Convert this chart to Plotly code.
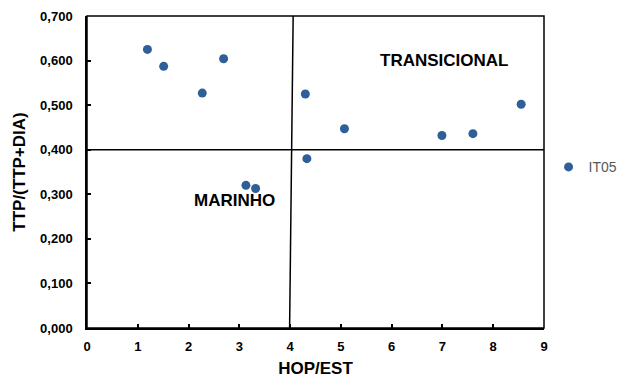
import plotly.graph_objects as go

# Data
hop_est = [1.19, 1.51, 2.27, 2.69, 4.30, 4.33, 3.13, 3.32, 5.07, 6.99, 7.60, 8.55]
ttp_ratio = [0.625, 0.587, 0.527, 0.604, 0.525, 0.380, 0.320, 0.313, 0.447, 0.432, 0.436, 0.502]
series_name = "IT05"

# Division lines (field boundaries)
vline_x = [3.99, 4.06]
vline_y = [0.0, 0.7]
hline_x = [0, 9]
hline_y = [0.4, 0.4]

x_ticks = [0, 1, 2, 3, 4, 5, 6, 7, 8, 9]
y_ticks = [0.0, 0.1, 0.2, 0.3, 0.4, 0.5, 0.6, 0.7]

region_labels = ["TRANSICIONAL", "MARINHO"]
region_x = [7.04, 2.91]
region_y = [0.601, 0.2865]

font_family = "Liberation Sans, Arial, sans-serif"

fig = go.Figure()
fig.add_trace(go.Scatter(x=vline_x, y=vline_y, mode="lines",
                         line=dict(color="black", width=1.5), showlegend=False, hoverinfo="skip"))
fig.add_trace(go.Scatter(x=hline_x, y=hline_y, mode="lines",
                         line=dict(color="black", width=1.5), showlegend=False, hoverinfo="skip"))
fig.add_trace(go.Scatter(x=hop_est, y=ttp_ratio, mode="markers", name=series_name,
                         marker=dict(color="#2F5F98", size=9)))

for t, x, y in zip(region_labels, region_x, region_y):
    fig.add_annotation(x=x, y=y, text="<b>%s</b>" % t, showarrow=False,
                       font=dict(family=font_family, size=17, color="black"))

# plot frame
fig.add_shape(type="rect", xref="x domain", yref="y domain", x0=0, x1=1, y0=0, y1=1,
              line=dict(color="black", width=1.5), layer="above")

fig.update_layout(
    width=622, height=378,
    margin=dict(l=87, r=78, t=16, b=50, autoexpand=False),
    paper_bgcolor="white", plot_bgcolor="white",
    separators=",.",
    font=dict(family=font_family, color="black"),
    showlegend=True,
    legend=dict(x=1.01, y=0.515, xanchor="left", yanchor="middle",
                font=dict(family=font_family, size=14, color="#595959"),
                itemwidth=30, bgcolor="rgba(0,0,0,0)"),
    xaxis=dict(range=[0, 9], tickvals=x_ticks, showgrid=False, zeroline=False,
               showline=True, linecolor="black", linewidth=1.5,
               ticks="inside", ticklen=4, tickcolor="black", tickwidth=1.5,
               ticklabelstandoff=6,
               tickfont=dict(family=font_family, size=13, weight="bold"),
               title=dict(text="<b>HOP/EST</b>", font=dict(family=font_family, size=17), standoff=10)),
    yaxis=dict(range=[0, 0.7], tickvals=y_ticks, tickformat=".3f", showgrid=False, zeroline=False,
               showline=True, linecolor="black", linewidth=1.5,
               ticks="inside", ticklen=4, tickcolor="black", tickwidth=1.5,
               ticklabelstandoff=10,
               tickfont=dict(family=font_family, size=13, weight="bold"),
               title=dict(text="<b>TTP/(TTP+DIA)</b>", font=dict(family=font_family, size=17), standoff=10)),
)

fig.write_html("out.html")
